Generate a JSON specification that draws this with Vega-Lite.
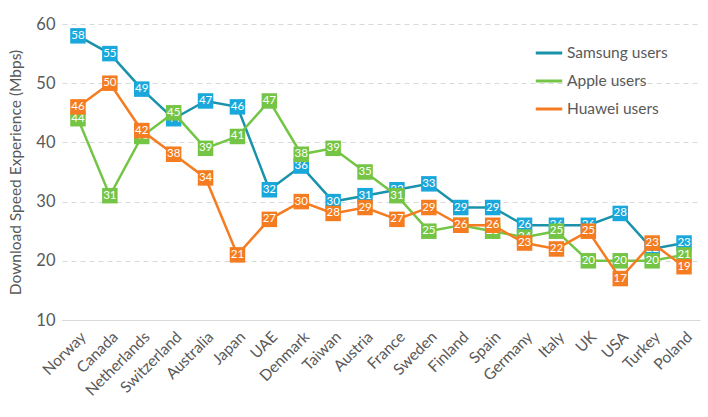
{
  "$schema": "https://vega.github.io/schema/vega-lite/v6.json",
  "width": 638,
  "height": 296,
  "autosize": "none",
  "padding": {"left": 62, "top": 24, "right": 8, "bottom": 97},
  "config": {
    "font": "Lato",
    "view": {"stroke": null},
    "axis": {"labelFont": "Lato", "titleFont": "Lato", "labelColor": "#595959", "titleColor": "#595959"}
  },
  "data": {
    "values": [
      {"country": "Norway", "series": "Samsung users", "value": 58},
      {"country": "Canada", "series": "Samsung users", "value": 55},
      {"country": "Netherlands", "series": "Samsung users", "value": 49},
      {"country": "Switzerland", "series": "Samsung users", "value": 44},
      {"country": "Australia", "series": "Samsung users", "value": 47},
      {"country": "Japan", "series": "Samsung users", "value": 46},
      {"country": "UAE", "series": "Samsung users", "value": 32},
      {"country": "Denmark", "series": "Samsung users", "value": 36},
      {"country": "Taiwan", "series": "Samsung users", "value": 30},
      {"country": "Austria", "series": "Samsung users", "value": 31},
      {"country": "France", "series": "Samsung users", "value": 32},
      {"country": "Sweden", "series": "Samsung users", "value": 33},
      {"country": "Finland", "series": "Samsung users", "value": 29},
      {"country": "Spain", "series": "Samsung users", "value": 29},
      {"country": "Germany", "series": "Samsung users", "value": 26},
      {"country": "Italy", "series": "Samsung users", "value": 26},
      {"country": "UK", "series": "Samsung users", "value": 26},
      {"country": "USA", "series": "Samsung users", "value": 28},
      {"country": "Turkey", "series": "Samsung users", "value": 22},
      {"country": "Poland", "series": "Samsung users", "value": 23},
      {"country": "Norway", "series": "Apple users", "value": 44},
      {"country": "Canada", "series": "Apple users", "value": 31},
      {"country": "Netherlands", "series": "Apple users", "value": 41},
      {"country": "Switzerland", "series": "Apple users", "value": 45},
      {"country": "Australia", "series": "Apple users", "value": 39},
      {"country": "Japan", "series": "Apple users", "value": 41},
      {"country": "UAE", "series": "Apple users", "value": 47},
      {"country": "Denmark", "series": "Apple users", "value": 38},
      {"country": "Taiwan", "series": "Apple users", "value": 39},
      {"country": "Austria", "series": "Apple users", "value": 35},
      {"country": "France", "series": "Apple users", "value": 31},
      {"country": "Sweden", "series": "Apple users", "value": 25},
      {"country": "Finland", "series": "Apple users", "value": 26},
      {"country": "Spain", "series": "Apple users", "value": 25},
      {"country": "Germany", "series": "Apple users", "value": 24},
      {"country": "Italy", "series": "Apple users", "value": 25},
      {"country": "UK", "series": "Apple users", "value": 20},
      {"country": "USA", "series": "Apple users", "value": 20},
      {"country": "Turkey", "series": "Apple users", "value": 20},
      {"country": "Poland", "series": "Apple users", "value": 21},
      {"country": "Norway", "series": "Huawei users", "value": 46},
      {"country": "Canada", "series": "Huawei users", "value": 50},
      {"country": "Netherlands", "series": "Huawei users", "value": 42},
      {"country": "Switzerland", "series": "Huawei users", "value": 38},
      {"country": "Australia", "series": "Huawei users", "value": 34},
      {"country": "Japan", "series": "Huawei users", "value": 21},
      {"country": "UAE", "series": "Huawei users", "value": 27},
      {"country": "Denmark", "series": "Huawei users", "value": 30},
      {"country": "Taiwan", "series": "Huawei users", "value": 28},
      {"country": "Austria", "series": "Huawei users", "value": 29},
      {"country": "France", "series": "Huawei users", "value": 27},
      {"country": "Sweden", "series": "Huawei users", "value": 29},
      {"country": "Finland", "series": "Huawei users", "value": 26},
      {"country": "Spain", "series": "Huawei users", "value": 26},
      {"country": "Germany", "series": "Huawei users", "value": 23},
      {"country": "Italy", "series": "Huawei users", "value": 22},
      {"country": "UK", "series": "Huawei users", "value": 25},
      {"country": "USA", "series": "Huawei users", "value": 17},
      {"country": "Turkey", "series": "Huawei users", "value": 23},
      {"country": "Poland", "series": "Huawei users", "value": 19}
    ]
  },
  "encoding": {
    "x": {
      "field": "country", "type": "nominal", "sort": null,
      "scale": {"type": "point", "padding": 0.5},
      "axis": {"title": null, "labelAngle": -45, "labelFontSize": 15.5, "ticks": false, "domain": true, "domainColor": "#d9d9d9", "labelPadding": 9, "grid": false}
    },
    "y": {
      "field": "value", "type": "quantitative",
      "scale": {"domain": [10, 60], "nice": false},
      "axis": {"values": [10, 20, 30, 40, 50, 60], "title": "Download Speed Experience (Mbps)", "titleFontSize": 15.5, "titleFontWeight": "normal", "titlePadding": 12, "labelFontSize": 16.5, "labelPadding": 7, "ticks": false, "domain": false, "gridColor": "#d9d9d9", "gridDash": [5, 4]}
    }
  },
  "layer": [
    {
      "transform": [{"filter": "datum.series == 'Samsung users'"}],
      "mark": {"type": "line", "strokeWidth": 2.5},
      "encoding": {"color": {"field": "series", "type": "nominal", "scale": {"domain": ["Samsung users", "Apple users", "Huawei users"], "range": ["#1a93aa", "#74c545", "#f57c20"]}, "legend": {"title": null, "orient": "none", "legendX": 472, "legendY": 14, "symbolType": "stroke", "symbolSize": 700, "symbolStrokeWidth": 3, "labelFontSize": 15.5, "labelColor": "#595959", "rowPadding": 4, "labelOffset": 3}}}
    },
    {
      "transform": [{"filter": "datum.series == 'Samsung users'"}],
      "mark": {"type": "point", "shape": "square", "filled": true, "opacity": 1, "size": 240, "color": "#1aa8dc"}
    },
    {
      "transform": [{"filter": "datum.series == 'Samsung users'"}],
      "mark": {"type": "text", "color": "white", "fontSize": 11.5},
      "encoding": {"text": {"field": "value", "type": "quantitative"}}
    },
    {
      "transform": [{"filter": "datum.series == 'Apple users'"}],
      "mark": {"type": "line", "strokeWidth": 2.5},
      "encoding": {"color": {"field": "series", "type": "nominal"}}
    },
    {
      "transform": [{"filter": "datum.series == 'Apple users'"}],
      "mark": {"type": "point", "shape": "square", "filled": true, "opacity": 1, "size": 240, "color": "#74c545"}
    },
    {
      "transform": [{"filter": "datum.series == 'Apple users'"}],
      "mark": {"type": "text", "color": "white", "fontSize": 11.5},
      "encoding": {"text": {"field": "value", "type": "quantitative"}}
    },
    {
      "transform": [{"filter": "datum.series == 'Huawei users'"}],
      "mark": {"type": "line", "strokeWidth": 2.5},
      "encoding": {"color": {"field": "series", "type": "nominal"}}
    },
    {
      "transform": [{"filter": "datum.series == 'Huawei users'"}],
      "mark": {"type": "point", "shape": "square", "filled": true, "opacity": 1, "size": 240, "color": "#f57c20"}
    },
    {
      "transform": [{"filter": "datum.series == 'Huawei users'"}],
      "mark": {"type": "text", "color": "white", "fontSize": 11.5},
      "encoding": {"text": {"field": "value", "type": "quantitative"}}
    }
  ]
}
